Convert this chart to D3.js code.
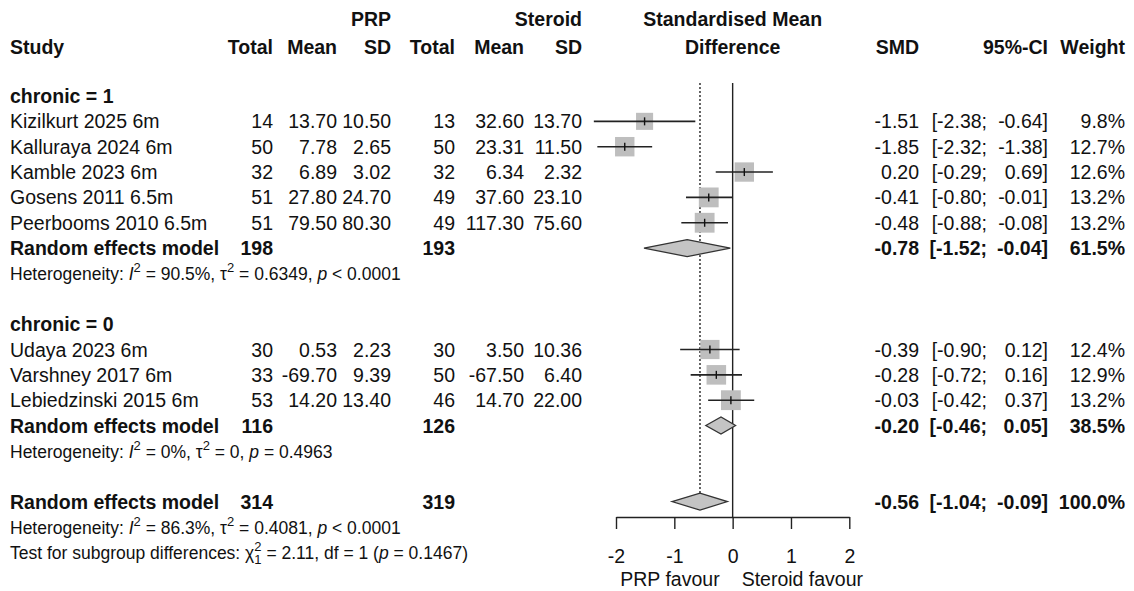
<!DOCTYPE html>
<html>
<head>
<meta charset="utf-8">
<script src="https://d3js.org/d3.v7.min.js"></script>
<style>
  body { margin: 0; background: #fff; }
  svg { font-family: "Liberation Sans", Arial, sans-serif; }
</style>
</head>
<body>
<svg width="1134" height="591"></svg>
<script>
// study level data
var studies = ["Kizilkurt 2025 6m", "Kalluraya 2024 6m", "Kamble 2023 6m", "Gosens 2011 6.5m", "Peerbooms 2010 6.5m",
               "Udaya 2023 6m", "Varshney 2017 6m", "Lebiedzinski 2015 6m"];
var chronic = [1, 1, 1, 1, 1, 0, 0, 0];
var prpN = [14, 50, 32, 51, 51, 30, 33, 53];
var prpMean = [13.70, 7.78, 6.89, 27.80, 79.50, 0.53, -69.70, 14.20];
var prpSD = [10.50, 2.65, 3.02, 24.70, 80.30, 2.23, 9.39, 13.40];
var steN = [13, 50, 32, 49, 49, 30, 50, 46];
var steMean = [32.60, 23.31, 6.34, 37.60, 117.30, 3.50, -67.50, 14.70];
var steSD = [13.70, 11.50, 2.32, 23.10, 75.60, 10.36, 6.40, 22.00];
var smd = [-1.51, -1.85, 0.20, -0.41, -0.48, -0.39, -0.28, -0.03];
var ciLo = [-2.38, -2.32, -0.29, -0.80, -0.88, -0.90, -0.72, -0.42];
var ciHi = [-0.64, -1.38, 0.69, -0.01, -0.08, 0.12, 0.16, 0.37];
var weight = [9.8, 12.7, 12.6, 13.2, 13.2, 12.4, 12.9, 13.2];

// subgroup summaries
var subLevels = [1, 0];
var subPrpN = [198, 116];
var subSteN = [193, 126];
var subSmd = [-0.78, -0.20];
var subLo = [-1.52, -0.46];
var subHi = [-0.04, 0.05];
var subWeight = [61.5, 38.5];
var subI2 = ["90.5%", "0%"];
var subTau2 = ["0.6349", "0"];
var subP = ["< 0.0001", "= 0.4963"];

// overall
var totPrpN = 314, totSteN = 319;
var totSmd = -0.56, totLo = -1.04, totHi = -0.09, totWeight = 100.0;
var totI2 = "86.3%", totTau2 = "0.4081", totP = "< 0.0001";
var testChi = "2.11", testDf = "1", testP = "0.1467";

var xTicks = [-2, -1, 0, 1, 2];

var svg = d3.select("svg");
var fs = 19.5, fsSmall = 17.5;
var loc = d3.formatLocale({decimal: ".", thousands: ",", grouping: [3], currency: ["", ""], minus: "-"});
var f2 = loc.format(".2f"), f1 = loc.format(".1f"), f0 = loc.format("d");

var x = d3.scaleLinear().domain([-2, 2]).range([616, 849.3]);
var y = d3.scaleLinear().domain([0, 18]).range([96, 552.3]);

// column right edges
var col = {total1: 273, mean1: 337, sd1: 391, total2: 455, mean2: 524, sd2: 582,
           smd: 919, ciSemi: 987, ci: 1048, w: 1125};

function txt(xp, yp, s, anchor, bold, size) {
  return svg.append("text")
    .attr("x", xp).attr("y", yp)
    .attr("text-anchor", anchor || "start")
    .attr("font-weight", bold ? "bold" : "normal")
    .attr("font-size", size || fs)
    .attr("fill", "#111")
    .text(s);
}
function base(i) { return y(i) + 7; }

// headers
txt(col.sd1, 26, "PRP", "end", true);
txt(col.sd2, 26, "Steroid", "end", true);
txt(x(0), 26, "Standardised Mean", "middle", true);
txt(10, 54, "Study", "start", true);
txt(col.total1, 54, "Total", "end", true);
txt(col.mean1, 54, "Mean", "end", true);
txt(col.sd1, 54, "SD", "end", true);
txt(col.total2, 54, "Total", "end", true);
txt(col.mean2, 54, "Mean", "end", true);
txt(col.sd2, 54, "SD", "end", true);
txt(x(0), 54, "Difference", "middle", true);
txt(col.smd, 54, "SMD", "end", true);
txt(col.ci, 54, "95%-CI", "end", true);
txt(col.w, 54, "Weight", "end", true);

// build rows
var rows = [];
var r = 0;
subLevels.forEach(function(lv, g) {
  rows.push({type: "head", row: r++, label: "chronic = " + lv});
  studies.forEach(function(s, i) {
    if (chronic[i] === lv) rows.push({type: "study", row: r++, i: i});
  });
  rows.push({type: "sum", row: r++, n1: subPrpN[g], n2: subSteN[g], est: subSmd[g], lo: subLo[g], hi: subHi[g], w: subWeight[g]});
  rows.push({type: "het", row: r++, i2: subI2[g], tau2: subTau2[g], p: subP[g]});
  r++;
});
rows.push({type: "sum", row: r++, n1: totPrpN, n2: totSteN, est: totSmd, lo: totLo, hi: totHi, w: totWeight});
rows.push({type: "het", row: r++, i2: totI2, tau2: totTau2, p: totP});
rows.push({type: "test", row: r++});

// reference lines
svg.append("line")
  .attr("x1", x(0)).attr("x2", x(0))
  .attr("y1", y(0) - 13).attr("y2", 517)
  .attr("stroke", "#222").attr("stroke-width", 1.4);
svg.append("line")
  .attr("x1", x(totSmd)).attr("x2", x(totSmd))
  .attr("y1", y(0) - 13).attr("y2", y(16) - 8)
  .attr("stroke", "#333").attr("stroke-width", 1.5)
  .attr("stroke-dasharray", "2,2");

rows.forEach(function(d) {
  var b = base(d.row);
  if (d.type === "head") {
    txt(10, b, d.label, "start", true);
  } else if (d.type === "study") {
    var i = d.i;
    txt(10, b, studies[i]);
    txt(col.total1, b, f0(prpN[i]), "end");
    txt(col.mean1, b, f2(prpMean[i]), "end");
    txt(col.sd1, b, f2(prpSD[i]), "end");
    txt(col.total2, b, f0(steN[i]), "end");
    txt(col.mean2, b, f2(steMean[i]), "end");
    txt(col.sd2, b, f2(steSD[i]), "end");
    txt(col.smd, b, f2(smd[i]), "end");
    txt(col.ciSemi, b, "[" + f2(ciLo[i]) + ";", "end");
    txt(col.ci, b, f2(ciHi[i]) + "]", "end");
    txt(col.w, b, f1(weight[i]) + "%", "end");
    // square sized by weight
    var side = 5.45 * Math.sqrt(weight[i]);
    svg.append("rect")
      .attr("x", x(smd[i]) - side / 2).attr("y", y(d.row) - side / 2)
      .attr("width", side).attr("height", side)
      .attr("fill", "#bebebe");
    svg.append("line")
      .attr("x1", x(ciLo[i])).attr("x2", x(ciHi[i]))
      .attr("y1", y(d.row)).attr("y2", y(d.row))
      .attr("stroke", "#222").attr("stroke-width", 1.6);
    svg.append("line")
      .attr("x1", x(smd[i])).attr("x2", x(smd[i]))
      .attr("y1", y(d.row) - 4).attr("y2", y(d.row) + 4)
      .attr("stroke", "#111").attr("stroke-width", 1.4);
  } else if (d.type === "sum") {
    txt(10, b, "Random effects model", "start", true);
    txt(col.total1, b, f0(d.n1), "end", true);
    txt(col.total2, b, f0(d.n2), "end", true);
    txt(col.smd, b, f2(d.est), "end", true);
    txt(col.ciSemi, b, "[" + f2(d.lo) + ";", "end", true);
    txt(col.ci, b, f2(d.hi) + "]", "end", true);
    txt(col.w, b, f1(d.w) + "%", "end", true);
    var yc = y(d.row), hh = 8.5;
    svg.append("path")
      .attr("d", "M" + x(d.lo) + "," + yc + "L" + x(d.est) + "," + (yc - hh) +
                 "L" + x(d.hi) + "," + yc + "L" + x(d.est) + "," + (yc + hh) + "Z")
      .attr("fill", "#c4c4c4").attr("stroke", "#333").attr("stroke-width", 1.3);
  } else if (d.type === "het") {
    var t = txt(10, b, null, "start", false, fsSmall);
    t.append("tspan").text("Heterogeneity: ");
    t.append("tspan").attr("font-style", "italic").text("I");
    t.append("tspan").attr("font-size", 13).attr("dy", -8).text("2");
    t.append("tspan").attr("dy", 8).text(" = " + d.i2 + ", \u03c4");
    t.append("tspan").attr("font-size", 13).attr("dy", -8).text("2");
    t.append("tspan").attr("dy", 8).text(" = " + d.tau2 + ", ");
    t.append("tspan").attr("font-style", "italic").text("p");
    t.append("tspan").text(" " + d.p);
  } else if (d.type === "test") {
    var t2 = txt(10, b, null, "start", false, fsSmall);
    t2.append("tspan").text("Test for subgroup differences: \u03c7");
    t2.append("tspan").attr("font-size", 13).attr("dy", -8).text("2");
    t2.append("tspan").attr("font-size", 13).attr("dx", -7.2).attr("dy", 13).text(testDf);
    t2.append("tspan").attr("dy", -5).text(" = " + testChi + ", df = " + testDf + " (");
    t2.append("tspan").attr("font-style", "italic").text("p");
    t2.append("tspan").text(" = " + testP + ")");
  }
});

// axis
var axis = d3.axisBottom(x).tickValues(xTicks).tickSize(12).tickSizeOuter(0)
  .tickPadding(20).tickFormat(f0);
var ax = svg.append("g").attr("transform", "translate(0,517)").call(axis);
ax.selectAll("path, line").attr("stroke", "#222").attr("stroke-width", 1.4);
ax.selectAll("text").attr("font-size", fs).attr("fill", "#111")
  .attr("font-family", "Liberation Sans, Arial, sans-serif");

txt(x(0) - 13, 586, "PRP favour", "end");
txt(x(0) + 9, 586, "Steroid favour", "start");
</script>
</body>
</html>
